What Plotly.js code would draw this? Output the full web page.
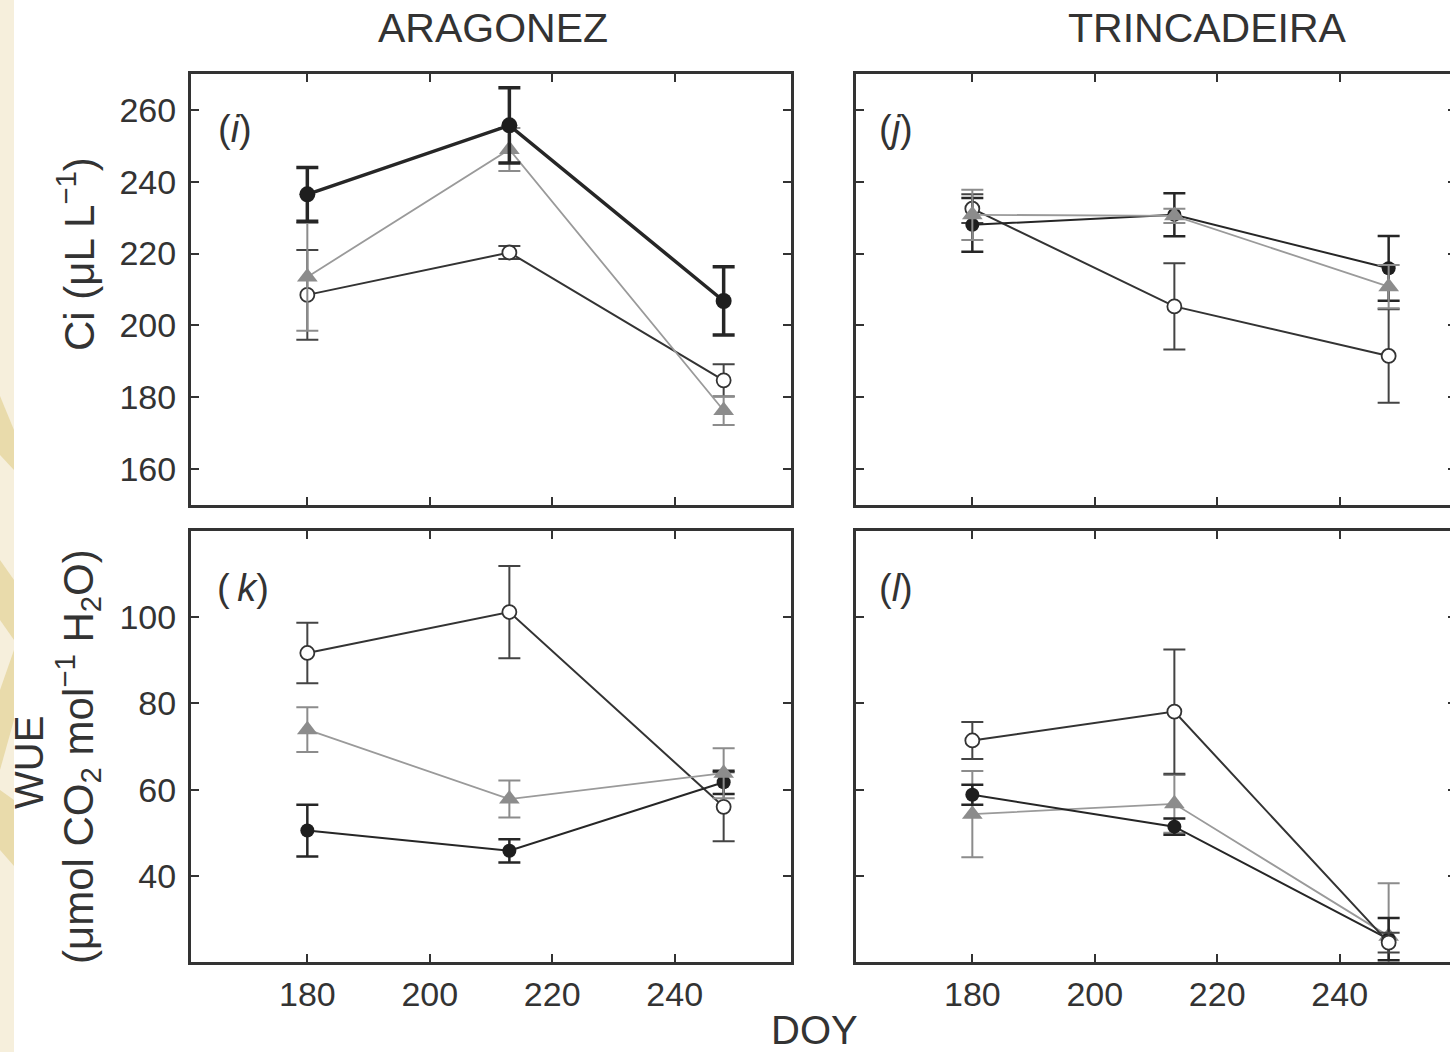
<!DOCTYPE html>
<html>
<head>
<meta charset="utf-8">
<script src="https://cdn.plot.ly/plotly-3.0.1.min.js"></script>
<style>
  html, body { margin:0; padding:0; width:1450px; height:1052px; overflow:hidden; background:#ffffff; }
  #bg { position:absolute; left:0; top:0; width:14px; height:1052px; z-index:0; }
  #chart { position:absolute; left:0; top:0; width:1460px; height:1052px; z-index:1; }
</style>
</head>
<body>
<svg id="bg" width="14" height="1052" xmlns="http://www.w3.org/2000/svg">
  <rect x="0" y="0" width="14" height="1052" fill="#f6efdc"/>
  <polygon points="0,396 14,430 14,470 0,455" fill="#e9dbab"/>
  <polygon points="0,560 14,580 14,640 0,620" fill="#e9dbab"/>
  <polygon points="14,650 0,690 0,770 14,720" fill="#e9dbab"/>
  <polygon points="0,790 14,800 14,866 0,850" fill="#e9dbab"/>
</svg>
<div id="chart"></div>
<script>
// ---- data ----
const DOY = [180, 213, 248];

// Ci (uL L-1), Aragonez (panel i)
const aragCiFilled = [236.5, 255.7, 206.8];
const aragCiFilledErr = [7.5, 10.5, 9.5];
const aragCiTri = [213.5, 249.0, 176.3];
const aragCiTriErr = [15.0, 6.0, 4.0];
const aragCiOpen = [208.5, 220.3, 184.7];
const aragCiOpenErr = [12.5, 1.8, 4.5];

// Ci, Trincadeira (panel j)
const trinCiFilled = [228.0, 230.8, 215.9];
const trinCiFilledErr = [7.5, 6.0, 9.0];
const trinCiTri = [230.8, 230.5, 210.8];
const trinCiTriErr = [7.0, 2.0, 6.0];
const trinCiOpen = [232.5, 205.3, 191.5];
const trinCiOpenErr = [4.0, 12.0, 13.0];

// WUE, Aragonez (panel k)
const aragWueFilled = [50.5, 45.8, 61.7];
const aragWueFilledErr = [6.0, 2.7, 2.7];
const aragWueTri = [73.9, 57.8, 63.8];
const aragWueTriErr = [5.2, 4.3, 5.8];
const aragWueOpen = [91.7, 101.2, 56.0];
const aragWueOpenErr = [7.0, 10.7, 8.0];

// WUE, Trincadeira (panel l)
const trinWueFilled = [58.8, 51.4, 25.3];
const trinWueFilledErr = [2.3, 1.9, 4.9];
const trinWueTri = [54.3, 56.7, 26.0];
const trinWueTriErr = [10.0, 6.7, 12.3];
const trinWueOpen = [71.4, 78.1, 24.5];
const trinWueOpenErr = [4.3, 14.4, 2.3];

const ciTicks = [160, 180, 200, 220, 240, 260];
const wueTicks = [40, 60, 80, 100];
const doyTicks = [180, 200, 220, 240];

// ---- styles ----
const FONT = 'Liberation Sans, Arial, Helvetica, sans-serif';
const TXT = '#333333';

function openTrace(x, y, e, xa, ya) {
  return { x: x, y: y, xaxis: xa, yaxis: ya, type: 'scatter', mode: 'lines+markers',
    line: { color: '#333333', width: 2 },
    marker: { symbol: 'circle', size: 14, color: '#ffffff', line: { color: '#333333', width: 1.8 } },
    error_y: { type: 'data', array: e, visible: true, color: '#444444', thickness: 2, width: 11 },
    showlegend: false, hoverinfo: 'skip' };
}
function triTrace(x, y, e, xa, ya) {
  return { x: x, y: y, xaxis: xa, yaxis: ya, type: 'scatter', mode: 'lines+markers',
    line: { color: '#9a9a9a', width: 1.8 },
    marker: { symbol: 'triangle-up', size: 18, color: '#8c8c8c', line: { width: 0 } },
    error_y: { type: 'data', array: e, visible: true, color: '#8c8c8c', thickness: 2, width: 11 },
    showlegend: false, hoverinfo: 'skip' };
}
function filledTrace(x, y, e, xa, ya, heavy) {
  return { x: x, y: y, xaxis: xa, yaxis: ya, type: 'scatter', mode: 'lines+markers',
    line: { color: '#262626', width: heavy ? 3.5 : 2 },
    marker: { symbol: 'circle', size: heavy ? 16 : 14, color: '#1e1e1e', line: { width: 0 } },
    error_y: { type: 'data', array: e, visible: true, color: '#262626', thickness: heavy ? 3.5 : 2.5, width: 11 },
    showlegend: false, hoverinfo: 'skip' };
}

const data = [
  openTrace(DOY, aragCiOpen, aragCiOpenErr, 'x', 'y'),
  triTrace(DOY, aragCiTri, aragCiTriErr, 'x', 'y'),
  filledTrace(DOY, aragCiFilled, aragCiFilledErr, 'x', 'y', true),

  openTrace(DOY, trinCiOpen, trinCiOpenErr, 'x2', 'y2'),
  filledTrace(DOY, trinCiFilled, trinCiFilledErr, 'x2', 'y2', false),
  triTrace(DOY, trinCiTri, trinCiTriErr, 'x2', 'y2'),

  openTrace(DOY, aragWueOpen, aragWueOpenErr, 'x3', 'y3'),
  filledTrace(DOY, aragWueFilled, aragWueFilledErr, 'x3', 'y3', false),
  triTrace(DOY, aragWueTri, aragWueTriErr, 'x3', 'y3'),

  triTrace(DOY, trinWueTri, trinWueTriErr, 'x4', 'y4'),
  filledTrace(DOY, trinWueFilled, trinWueFilledErr, 'x4', 'y4', false),
  openTrace(DOY, trinWueOpen, trinWueOpenErr, 'x4', 'y4')
];

const W = 1460, H = 1052;
const px = v => v / W;
const py = v => 1 - v / H;

function axis(extra) {
  return Object.assign({
    showline: true, mirror: 'allticks', linecolor: '#333333', linewidth: 3,
    ticks: 'inside', ticklen: 8, tickwidth: 2, tickcolor: '#333333',
    showgrid: false, zeroline: false, fixedrange: true,
    tickfont: { family: FONT, size: 34, color: TXT }
  }, extra);
}
const XR = [161, 259];
const leftDom = [px(191), px(791)];
const rightDom = [px(856), px(1456)];
const topDom = [py(505), py(74)];
const botDom = [py(962), py(531)];

const layout = {
  width: W, height: H,
  margin: { l: 0, r: 0, t: 0, b: 0 },
  paper_bgcolor: 'rgba(0,0,0,0)', plot_bgcolor: '#ffffff',
  showlegend: false,
  xaxis:  axis({ domain: leftDom,  range: XR, tickvals: doyTicks, showticklabels: false, anchor: 'y' }),
  xaxis2: axis({ domain: rightDom, range: XR, tickvals: doyTicks, showticklabels: false, anchor: 'y2' }),
  xaxis3: axis({ domain: leftDom,  range: XR, tickvals: doyTicks, anchor: 'y3', ticklabelstandoff: 0 }),
  xaxis4: axis({ domain: rightDom, range: XR, tickvals: doyTicks, anchor: 'y4', ticklabelstandoff: 0 }),
  yaxis:  axis({ domain: topDom, range: [150, 270], tickvals: ciTicks, anchor: 'x', ticklabelstandoff: 5 }),
  yaxis2: axis({ domain: topDom, range: [150, 270], tickvals: ciTicks, anchor: 'x2', showticklabels: false }),
  yaxis3: axis({ domain: botDom, range: [20, 120], tickvals: wueTicks, anchor: 'x3', ticklabelstandoff: 5 }),
  yaxis4: axis({ domain: botDom, range: [20, 120], tickvals: wueTicks, anchor: 'x4', showticklabels: false }),
  annotations: [
    { text: 'ARAGONEZ', x: px(493), y: py(28), xref: 'paper', yref: 'paper', showarrow: false,
      xanchor: 'center', yanchor: 'middle', font: { family: FONT, size: 41, color: TXT } },
    { text: 'TRINCADEIRA', x: px(1207), y: py(28), xref: 'paper', yref: 'paper', showarrow: false,
      xanchor: 'center', yanchor: 'middle', font: { family: FONT, size: 41, color: TXT } },
    { text: 'DOY', x: px(814), y: py(1030), xref: 'paper', yref: 'paper', showarrow: false,
      xanchor: 'center', yanchor: 'middle', font: { family: FONT, size: 40, color: TXT } },
    { text: 'Ci (μL L<sup>−1</sup>)', x: px(76), y: py(254), xref: 'paper', yref: 'paper', showarrow: false,
      textangle: -90, xanchor: 'center', yanchor: 'middle', font: { family: FONT, size: 42, color: TXT } },
    { text: 'WUE', x: px(29), y: py(763), xref: 'paper', yref: 'paper', showarrow: false,
      textangle: -90, xanchor: 'center', yanchor: 'middle', font: { family: FONT, size: 40, color: TXT } },
    { text: '(μmol CO<sub>2</sub> mol<sup>−1</sup> H<sub>2</sub>O)', x: px(77), y: py(757), xref: 'paper', yref: 'paper', showarrow: false,
      textangle: -90, xanchor: 'center', yanchor: 'middle', font: { family: FONT, size: 42, color: TXT } },
    { text: '(<i>i</i>)', x: px(216), y: py(129), xref: 'paper', yref: 'paper', showarrow: false,
      xanchor: 'left', yanchor: 'middle', font: { family: FONT, size: 38, color: TXT } },
    { text: '(<i>j</i>)', x: px(877), y: py(129), xref: 'paper', yref: 'paper', showarrow: false,
      xanchor: 'left', yanchor: 'middle', font: { family: FONT, size: 38, color: TXT } },
    { text: '(\u2009<i>k</i>)', x: px(215), y: py(588), xref: 'paper', yref: 'paper', showarrow: false,
      xanchor: 'left', yanchor: 'middle', font: { family: FONT, size: 38, color: TXT } },
    { text: '(<i>l</i>)', x: px(877), y: py(588), xref: 'paper', yref: 'paper', showarrow: false,
      xanchor: 'left', yanchor: 'middle', font: { family: FONT, size: 38, color: TXT } }
  ]
};

Plotly.newPlot('chart', data, layout, { staticPlot: true, displayModeBar: false });
</script>
</body>
</html>
